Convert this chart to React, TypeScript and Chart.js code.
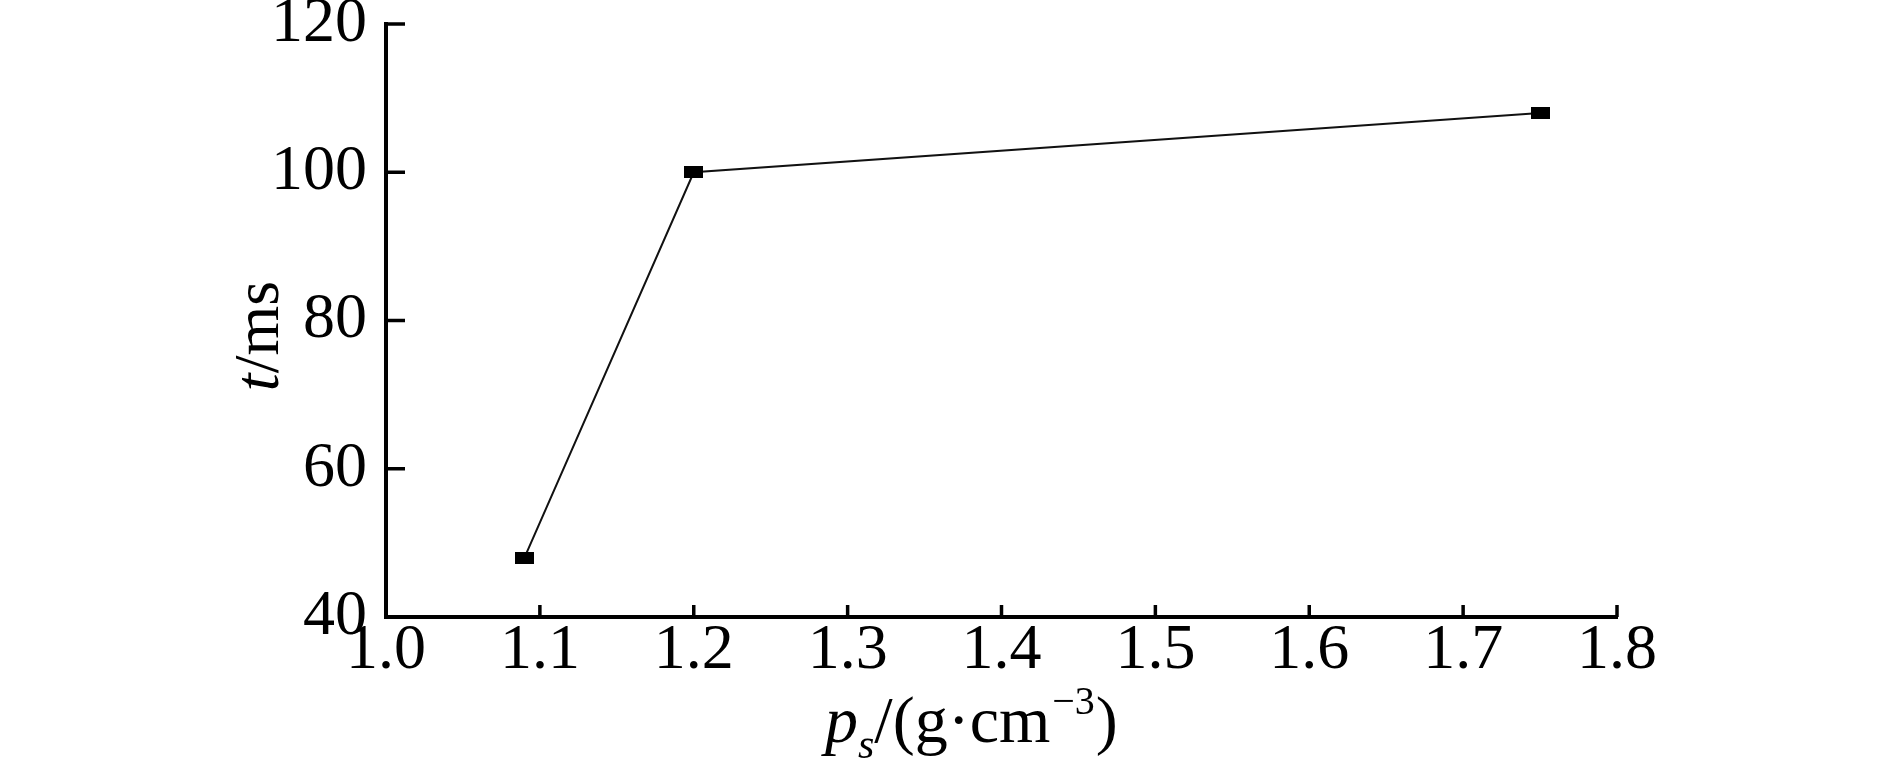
import React, { useEffect, useRef } from "react";
import { Chart, registerables } from "chart.js";

Chart.register(...registerables);

// Data
const densityValues = [1.09, 1.2, 1.75];
const timeValues = [48, 100, 108];
const xTickRange = { min: 1.0, max: 1.8, step: 0.1 };
const yTickRange = { min: 40, max: 120, step: 20 };

const SERIF = '"Liberation Serif", "Times New Roman", Times, serif';

function makeMarker(): HTMLCanvasElement {
  const c = document.createElement("canvas");
  c.width = 19;
  c.height = 12;
  const g = c.getContext("2d")!;
  g.fillStyle = "#000";
  g.fillRect(0, 0, 19, 12);
  return c;
}

const inwardTicks = {
  id: "inwardTicks",
  afterDatasetsDraw(chart: any) {
    const ctx = chart.ctx;
    const { left, bottom } = chart.chartArea;
    const xs = chart.scales.x;
    const ys = chart.scales.y;
    ctx.save();
    ctx.strokeStyle = "#000";
    ctx.lineWidth = 3.5;
    xs.ticks.forEach((t: any) => {
      const px = xs.getPixelForValue(t.value);
      ctx.beginPath();
      ctx.moveTo(px, bottom);
      ctx.lineTo(px, bottom - 12);
      ctx.stroke();
    });
    ys.ticks.forEach((t: any) => {
      const py = ys.getPixelForValue(t.value);
      ctx.beginPath();
      ctx.moveTo(left, py);
      ctx.lineTo(left + 19, py);
      ctx.stroke();
    });
    ctx.restore();
  },
};

const axisTitles = {
  id: "axisTitles",
  afterDraw(chart: any) {
    const ctx = chart.ctx;
    const { left } = chart.chartArea;
    ctx.save();
    ctx.fillStyle = "#000";
    ctx.textBaseline = "alphabetic";
    ctx.textAlign = "left";

    // X title: p_s/(g·cm^-3)
    let x = left + 439;
    const base = 742;
    ctx.font = `italic 66px ${SERIF}`;
    ctx.fillText("p", x, base);
    x += ctx.measureText("p").width;
    ctx.font = `italic 42px ${SERIF}`;
    ctx.fillText("s", x, base + 16);
    x += ctx.measureText("s").width;
    ctx.font = `66px ${SERIF}`;
    const mid = "/(g·cm";
    ctx.fillText(mid, x, base);
    x += ctx.measureText(mid).width + 2;
    ctx.font = `40px ${SERIF}`;
    const sup = "\u22123";
    ctx.fillText(sup, x, base - 28);
    x += ctx.measureText(sup).width + 1;
    ctx.font = `66px ${SERIF}`;
    ctx.fillText(")", x, base);

    // Y title: t/ms (rotated)
    ctx.translate(278, 336);
    ctx.rotate(-Math.PI / 2);
    ctx.font = `italic 64px ${SERIF}`;
    const wt = ctx.measureText("t").width;
    ctx.font = `64px ${SERIF}`;
    const wr = ctx.measureText("/ms").width;
    const start = -(wt + wr) / 2;
    ctx.font = `italic 64px ${SERIF}`;
    ctx.fillText("t", start, 0);
    ctx.font = `64px ${SERIF}`;
    ctx.fillText("/ms", start + wt, 0);
    ctx.restore();
  },
};

export default function App() {
  const ref = useRef<HTMLCanvasElement | null>(null);

  useEffect(() => {
    if (!ref.current) return;
    const marker = makeMarker();
    const chart = new Chart(ref.current, {
      type: "line",
      data: {
        datasets: [
          {
            data: densityValues.map((v, i) => ({ x: v, y: timeValues[i] })),
            borderColor: "#111",
            borderWidth: 2,
            tension: 0,
            fill: false,
            pointStyle: marker as any,
            pointRadius: 8,
            pointBackgroundColor: "#000",
            pointBorderColor: "#000",
          },
        ],
      },
      options: {
        responsive: false,
        animation: false,
        devicePixelRatio: 1,
        layout: { padding: { left: 0, top: 24, right: 273, bottom: 0 } },
        plugins: {
          legend: { display: false },
          tooltip: { enabled: false },
          title: { display: false },
        },
        scales: {
          x: {
            type: "linear",
            min: xTickRange.min,
            max: xTickRange.max,
            ticks: {
              stepSize: xTickRange.step,
              color: "#000",
              padding: 2,
              maxRotation: 0,
              autoSkip: false,
              font: { family: SERIF, size: 64, lineHeight: 1 },
              callback: (v: any) => Number(v).toFixed(1),
            },
            grid: { display: false, drawTicks: false },
            border: { display: true, color: "#000", width: 4 },
            afterFit: (s: any) => {
              s.height = 763 - 617;
            },
          },
          y: {
            type: "linear",
            min: yTickRange.min,
            max: yTickRange.max,
            ticks: {
              stepSize: yTickRange.step,
              color: "#000",
              padding: 19,
              font: { family: SERIF, size: 64, lineHeight: 0.05 },
            },
            grid: { display: false, drawTicks: false },
            border: { display: true, color: "#000", width: 4 },
            afterFit: (s: any) => {
              s.width = 386;
            },
          },
        },
      },
      plugins: [inwardTicks, axisTitles],
    });
    return () => chart.destroy();
  }, []);

  return (
    <div style={{ position: "absolute", left: 0, top: 0, width: 1890, height: 763, background: "#fff" }}>
      <canvas ref={ref} width={1890} height={763} style={{ width: 1890, height: 763 }} />
    </div>
  );
}
